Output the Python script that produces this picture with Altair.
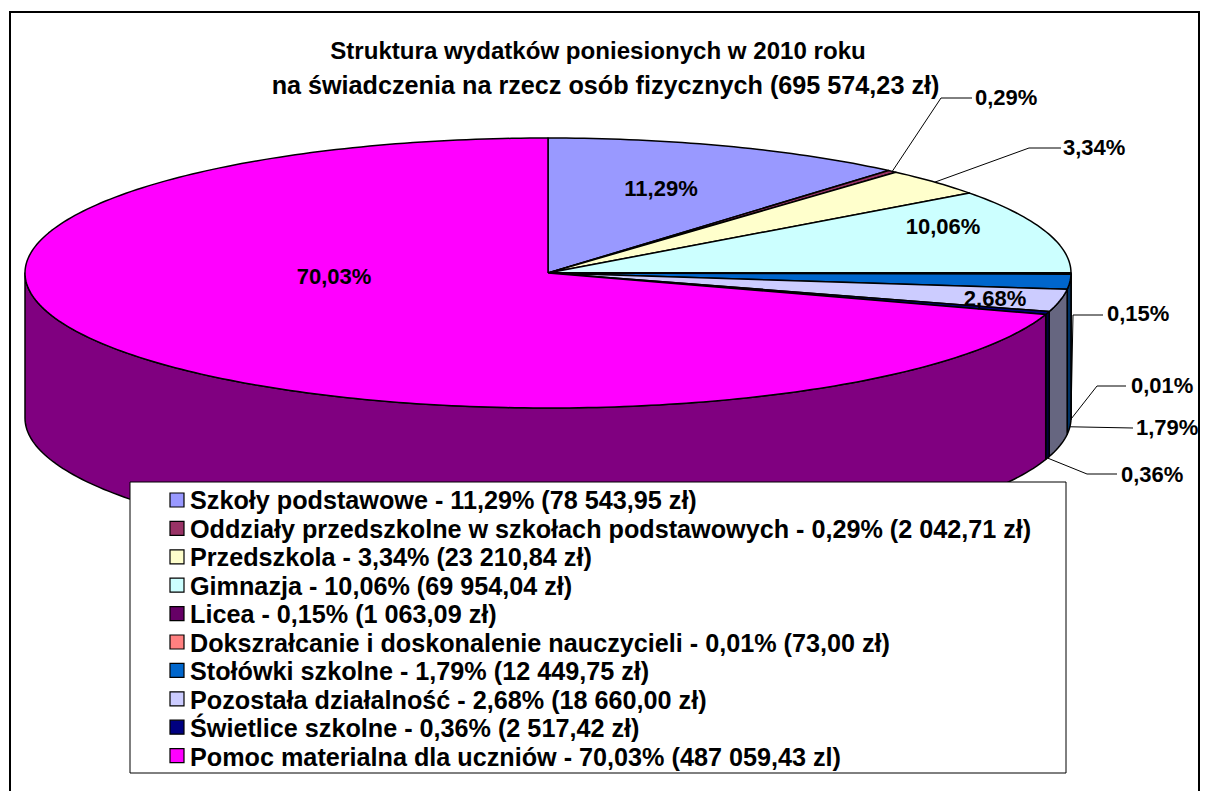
import math
import altair as alt
import pandas as pd

# --- values ---
TITLE_LINES = ["Struktura wydatków poniesionych w 2010 roku",
               "na świadczenia na rzecz osób fizycznych (695 574,23 zł)"]
CATEGORIES = ["Szkoły podstawowe", "Oddziały przedszkolne w szkołach podstawowych",
              "Przedszkola", "Gimnazja", "Licea",
              "Dokszrałcanie i doskonalenie nauczycieli", "Stołówki szkolne",
              "Pozostała działalność", "Świetlice szkolne",
              "Pomoc materialna dla uczniów"]
SHARES = [11.29, 0.29, 3.34, 10.06, 0.15, 0.01, 1.79, 2.68, 0.36, 70.03]
AMOUNTS = ["78 543,95 zł", "2 042,71 zł", "23 210,84 zł", "69 954,04 zł", "1 063,09 zł",
           "73,00 zł", "12 449,75 zł", "18 660,00 zł", "2 517,42 zł", "487 059,43 zl"]

# --- styles and layout ---
TOP_COLORS = ["#9999FF", "#993366", "#FFFFCC", "#CCFFFF", "#660066",
              "#FF8080", "#0066CC", "#CCCCFF", "#000080", "#FF00FF"]
SIDE_COLORS = ["#4D4D80", "#4D1A33", "#808066", "#668080", "#330033",
               "#804040", "#003366", "#666680", "#000040", "#800080"]
FONT = "Liberation Sans"
CX, CY, RX, RY, DEPTH = 548, 273, 523, 135, 145
X_DOM, Y_DOM = [8, 1200], [791, 8]
FRAME = dict(x=10, x2=1199, y=12, y2=800)
LEGEND_BOX = dict(x=130, x2=1066, y=482, y2=773)
SWATCH_Y0, SWATCH_DY = 500, 28.4
TEXT_Y0, TEXT_DY = 500, 28.55
INSIDE = {0: (661, 189), 3: (943, 227), 7: (995, 299), 9: (334, 277)}
# index -> (elbow, label start, label y, on side wall)
LEADERS = {1: ([(941, 98), (972, 98)], 975, 98, False),
           2: ([(1029, 148), (1061, 148)], 1063, 148, False),
           4: ([(1073, 315), (1103, 315)], 1107, 314, True),
           5: ([(1097, 386), (1126, 386)], 1131, 386, True),
           6: ([(1133, 428)], 1136, 428, True),
           8: ([(1087, 474), (1117, 474)], 1121, 475, True)}
TITLE_POS = [(598, 52, 24.1), (605.5, 86, 25.2)]


def fmt(v):
    return f"{v:.2f}".replace(".", ",") + "%"


def rim(deg, drop=0.0):
    a = math.radians(deg)
    return CX + RX * math.sin(a), CY - RY * math.cos(a) + drop


starts, acc = [], 0.0
for s in SHARES:
    starts.append(acc)
    acc += s
total = sum(SHARES)
ang = [(st * 360 / total, (st + s) * 360 / total) for st, s in zip(starts, SHARES)]


def arc(a, b):
    n = max(2, int(abs(b - a)) + 2)
    return [a + (b - a) * i / (n - 1) for i in range(n)]


top_rows, side_rows = [], []
for i, (a, b) in enumerate(ang):
    pts = [(CX, CY)] + [rim(t) for t in arc(a, b)] + [(CX, CY)]
    for k, (x, y) in enumerate(pts):
        top_rows.append(dict(s=f"{i:02d}", k=k, x=x, y=y))
    lo, hi = max(a, 90), min(b, 270)
    if hi > lo:
        ts = arc(lo, hi)
        pts = [rim(t) for t in ts] + [rim(t, DEPTH) for t in reversed(ts)] + [rim(ts[0])]
        for k, (x, y) in enumerate(pts):
            side_rows.append(dict(s=f"{i:02d}", k=k, x=x, y=y))

leader_rows, label_rows = [], []
for i, (bend, lx, ly, on_side) in LEADERS.items():
    mid = sum(ang[i]) / 2
    pts = [rim(mid, DEPTH if on_side else 0)] + bend
    for k, (x, y) in enumerate(pts):
        leader_rows.append(dict(s=f"{i:02d}", k=k, x=x, y=y))
    label_rows.append(dict(x=lx, y=ly, t=fmt(SHARES[i])))

inside_rows = [dict(x=p[0], y=p[1], t=fmt(SHARES[i])) for i, p in INSIDE.items()]
legend_rows = [dict(y=TEXT_Y0 + TEXT_DY * i, sy=SWATCH_Y0 + SWATCH_DY * i,
                    t=f"{c} - {fmt(s)} ({m})", s=f"{i:02d}")
               for i, (c, s, m) in enumerate(zip(CATEGORIES, SHARES, AMOUNTS))]

xs = alt.Scale(domain=X_DOM, nice=False, zero=False)
ys = alt.Scale(domain=Y_DOM, nice=False, zero=False)
X = alt.X("x:Q", scale=xs, axis=None)
Y = alt.Y("y:Q", scale=ys, axis=None)
ids = [f"{i:02d}" for i in range(len(SHARES))]


def poly(rows, colors):
    return alt.Chart(pd.DataFrame(rows)).mark_line(
        stroke="black", strokeWidth=1.5, strokeJoin="round"
    ).encode(
        x=X, y=Y, order="k:Q", detail="s:N",
        fill=alt.Fill("s:N", scale=alt.Scale(domain=ids, range=colors), legend=None),
    )


def rect(box, fill, stroke, width):
    return alt.Chart(pd.DataFrame([box])).mark_rect(
        fill=fill, stroke=stroke, strokeWidth=width
    ).encode(x=X, x2="x2:Q", y=Y, y2="y2:Q")


def text(rows, align, size):
    return alt.Chart(pd.DataFrame(rows)).mark_text(
        font=FONT, fontWeight="bold", fontSize=size, align=align, baseline="middle", color="black"
    ).encode(x=X, y=Y, text="t:N")


leaders = alt.Chart(pd.DataFrame(leader_rows)).mark_line(color="black", strokeWidth=1).encode(
    x=X, y=Y, order="k:Q", detail="s:N")

swatches = alt.Chart(pd.DataFrame(legend_rows)).mark_square(
    size=196, opacity=1, stroke="black", strokeWidth=1.2, filled=True
).encode(
    x=alt.value(177 - 8), y=alt.Y("sy:Q", scale=ys, axis=None),
    fill=alt.Fill("s:N", scale=alt.Scale(domain=ids, range=TOP_COLORS), legend=None),
)
legend_text = alt.Chart(pd.DataFrame(legend_rows)).mark_text(
    font=FONT, fontWeight="bold", fontSize=25.2, align="left", baseline="middle", color="black", dy=1
).encode(x=alt.value(190 - 8), y=alt.Y("y:Q", scale=ys, axis=None), text="t:N")

title_layers = [text([dict(x=p[0], y=p[1], t=t)], "center", p[2])
                for t, p in zip(TITLE_LINES, TITLE_POS)]

chart = alt.layer(
    rect(FRAME, "white", "black", 2),
    poly(side_rows, SIDE_COLORS),
    poly(top_rows, TOP_COLORS),
    leaders,
    *title_layers,
    text(label_rows, "left", 22),
    text(inside_rows, "center", 22),
    rect(LEGEND_BOX, "white", "black", 1),
    swatches,
    legend_text,
).resolve_scale(fill="independent").properties(
    width=1192, height=783, padding=0, autosize=alt.AutoSizeParams(type="none"), background="white"
).configure_view(stroke=None)

chart.save("out.html", embed_options={"renderer": "svg", "actions": False})
